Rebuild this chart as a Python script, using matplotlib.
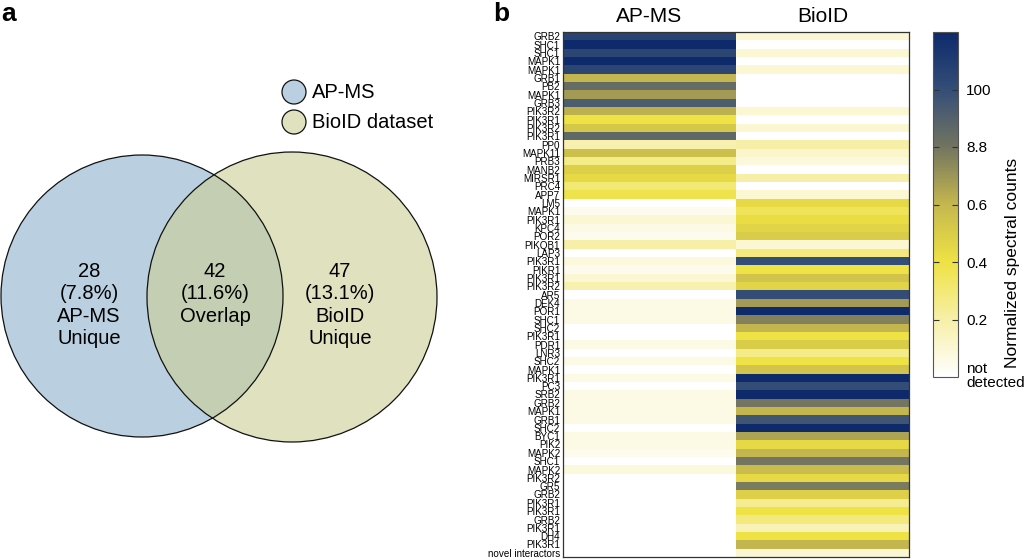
import numpy as np
import matplotlib
matplotlib.use("Agg")
import matplotlib.pyplot as plt
from matplotlib.patches import Circle
from matplotlib.colors import LinearSegmentedColormap

plt.rcParams['font.family'] = ['Liberation Sans', 'DejaVu Sans']

# ---------------- data ----------------
venn_counts = [28, 42, 47]
venn_pcts = [7.8, 11.6, 13.1]
venn_names = ["AP-MS\nUnique", "Overlap", "BioID\nUnique"]
set_names = ["AP-MS", "BioID dataset"]

columns = ["AP-MS", "BioID"]
row_labels = ["GRB2", "SHC1", "SHC1", "MAPK1", "MAPK1", "GRB1", "PB2", "MAPK1", "GRB3", "PIK3R2",
              "PIK3R1", "PIK3R2", "PIK3R1", "PP0", "MAPK11", "PRB3", "MANB2", "MIRSR1", "PRC4", "APP7",
              "LM5", "MAPK1", "PIK3R1", "KPC4", "POR2", "PIKQB1", "LAP3", "PIK3R1", "PIKR1", "PIK3R1",
              "PIK3R2", "AR5", "DEK4", "POR1", "SHC1", "SHC2", "PIK3R1", "PDR1", "LNR3", "SHC2",
              "MAPK1", "PIK3R1", "PC3", "SRB2", "GRB2", "MAPK1", "GRB1", "SHC2", "BYC1", "PIK2",
              "MAPK2", "SHC1", "MAPK2", "PIK3R2", "GR5", "GRB2", "PIK3R1", "PIK3R1", "GRB2", "PIK3R1",
              "DH4", "PIK3R1", "novel interactors"]
apms_level = [5.3, 6, 5.2, 6, 5.2, 3.0, 4.2, 3.4, 4.6, 3.1,
              2.0, 2.6, 4.3, 0.9, 2.8, 1.3, 2.4, 2.2, 1.5, 1.9,
              0, 0.2, 0.5, 0.3, 0.2, 1.0, 0, 0.4, 0.2, 0.5,
              0.9, 0, 0.3, 0.3, 0.3, 0, 0, 0.3, 0, 0.3,
              0, 0.3, 0, 0.3, 0.3, 0.3, 0.3, 0, 0.3, 0.3,
              0.2, 0, 0.4, 0, 0, 0, 0, 0, 0, 0,
              0, 0, 0]
bioid_level = [0.5, 0, 0.5, 0, 0.5, 0, 0, 0, 0, 0.5,
               0, 0.5, 0, 1.0, 0.6, 0.4, 0, 1.0, 0, 0.5,
               2.2, 1.8, 2.1, 2.3, 2.5, 0.5, 1.4, 5.0, 2.0, 2.7,
               2.3, 5.0, 3.4, 6, 3.8, 3.0, 2.0, 2.5, 1.3, 2.0,
               2.7, 6, 5, 6, 4, 3, 4.8, 6, 3.3, 2.2,
               3.0, 4, 2.9, 2.2, 3.9, 2.4, 1.2, 2.0, 1.4, 0.8,
               2.0, 3.0, 0.5]
cbar_ticks = [1, 2, 3, 4, 5]
cbar_ticklabels = ["0.2", "0.4", "0.6", "8.8", "100"]

W, H = 1024, 559
fig = plt.figure(figsize=(W / 100, H / 100), dpi=100)

# ---------------- panel a: Venn ----------------
axv = fig.add_axes([0, 0, 512 / W, 1])
axv.set_xlim(0, 512)
axv.set_ylim(H, 0)
axv.axis('off')

blue = '#bad0e1'
olive = '#e0e1bf'
axv.add_patch(Circle((142, 296), 141, facecolor=blue, edgecolor='none', zorder=1))
axv.add_patch(Circle((292, 297), 145, facecolor=olive, edgecolor='none', zorder=1))
# overlap region
clip = Circle((142, 296), 141, transform=axv.transData)
ov = Circle((292, 297), 145, facecolor='#c3ceb3', edgecolor='none', zorder=2)
axv.add_patch(ov)
ov.set_clip_path(clip)
axv.add_patch(Circle((142, 296), 141, facecolor='none', edgecolor='#111111', lw=0.9, zorder=3))
axv.add_patch(Circle((292, 297), 145, facecolor='none', edgecolor='#111111', lw=0.9, zorder=3))

xs = [89, 215, 340]
for x, c, p, n in zip(xs, venn_counts, venn_pcts, venn_names):
    axv.text(x, 262, f"{c}\n({p}%)\n{n}", ha='center', va='top', fontsize=14.5,
             linespacing=1.22, zorder=4)

# legend
for y, name, col in zip([92, 122], set_names, [blue, olive]):
    axv.add_patch(Circle((294, y), 12, facecolor=col, edgecolor='#111111', lw=0.9))
    axv.text(312, y, name, ha='left', va='center', fontsize=14.5)

fig.text(1 / W, 1 - 21 / H, "a", fontsize=19, fontweight='bold', ha='left', va='baseline')
fig.text(493 / W, 1 - 21 / H, "b", fontsize=19, fontweight='bold', ha='left', va='baseline')

# ---------------- panel b: heatmap ----------------
cmap = LinearSegmentedColormap.from_list('spec', [
    (0.0, '#ffffff'),
    (1 / 6, '#f7efa6'),
    (2 / 6, '#eee244'),
    (3 / 6, '#c5b74e'),
    (4 / 6, '#737560'),
    (5 / 6, '#344e77'),
    (1.0, '#0e2a6b'),
])

mat = np.column_stack([apms_level, bioid_level])
hx0, hx1, hy0, hy1 = 563, 909, 32, 557
axh = fig.add_axes([hx0 / W, 1 - hy1 / H, (hx1 - hx0) / W, (hy1 - hy0) / H])
im = axh.imshow(mat, cmap=cmap, vmin=0, vmax=6, aspect='auto', interpolation='nearest')
axh.set_yticks(np.arange(len(row_labels)))
axh.set_yticklabels(row_labels, fontsize=7.1)
axh.tick_params(axis='y', length=0, pad=2)
axh.xaxis.tick_top()
axh.set_xticks([0, 1])
axh.set_xticklabels(columns, fontsize=15)
axh.tick_params(axis='x', length=0, pad=4)
for s in axh.spines.values():
    s.set_color('#333333')
    s.set_linewidth(0.9)

# colorbar
cx0, cx1, cy0, cy1 = 933, 958, 32, 377
cax = fig.add_axes([cx0 / W, 1 - cy1 / H, (cx1 - cx0) / W, (cy1 - cy0) / H])
cb = fig.colorbar(im, cax=cax, ticks=cbar_ticks)
cb.set_ticklabels(cbar_ticklabels)
cb.outline.set_edgecolor('#555555')
cb.outline.set_linewidth(0.8)
cax.tick_params(axis='y', direction='in', length=4, width=0.8, color='#333333',
                left=True, right=True, labelsize=11, pad=6)
fig.text(966 / W, 1 - 362 / H, "not\ndetected", fontsize=11, ha='left', va='top',
         linespacing=1.0)
fig.text(1012 / W, 1 - 263 / H, "Normalized spectral counts", rotation=90,
         fontsize=12.5, ha='center', va='center')

fig.savefig("out.png", dpi=100)
